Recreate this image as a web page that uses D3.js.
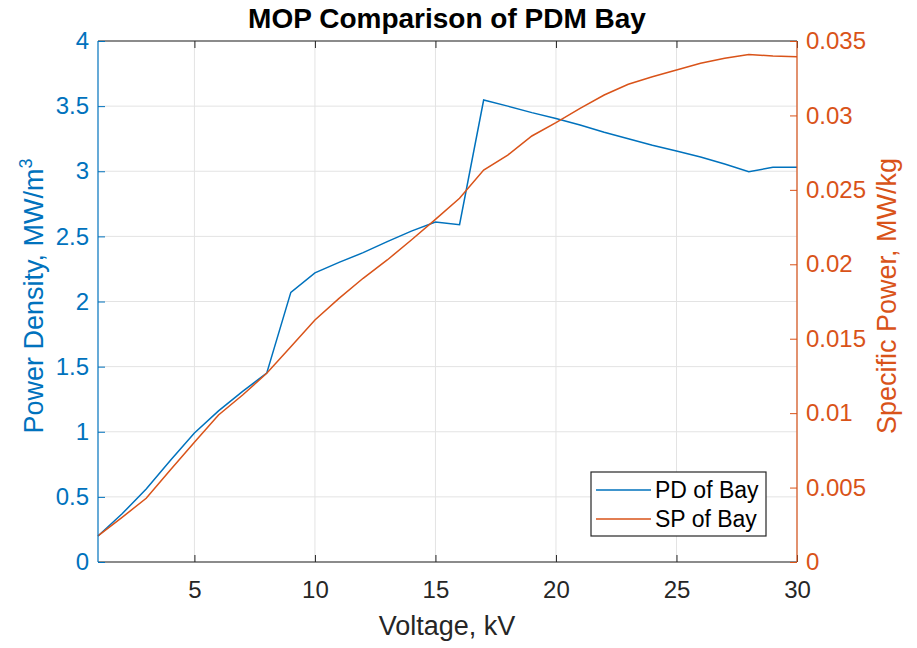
<!DOCTYPE html>
<html>
<head>
<meta charset="utf-8">
<script src="https://cdn.jsdelivr.net/npm/d3@7"></script>
<style>
  html, body { margin: 0; padding: 0; background: #fff; }
  svg { display: block; font-family: "Liberation Sans", Arial, Helvetica, sans-serif; }
</style>
</head>
<body>
<svg id="chart" width="917" height="648"></svg>
<script>
// Voltage sweep (kV)
const voltage = [1,2,3,4,5,6,7,8,9,10,11,12,13,14,15,16,17,18,19,20,21,22,23,24,25,26,27,28,29,30];
// Power density of Bay (MW/m^3)
const pdBay = [0.20,0.37,0.56,0.78,0.99,1.16,1.31,1.45,2.07,2.22,2.30,2.375,2.46,2.54,2.61,2.59,3.547,3.50,3.45,3.405,3.355,3.30,3.25,3.20,3.155,3.11,3.055,2.997,3.03,3.03];
// Specific power of Bay (MW/kg)
const spBay = [0.00175,0.0030,0.00428,0.00618,0.00805,0.00988,0.01122,0.01268,0.01446,0.01626,0.01771,0.01906,0.02029,0.02163,0.02302,0.02443,0.02633,0.02734,0.02862,0.02952,0.03048,0.03137,0.03209,0.0326,0.03305,0.0335,0.03384,0.0341,0.03399,0.03394];

const xTicks = [5,10,15,20,25,30];
const leftTicks = [0,0.5,1,1.5,2,2.5,3,3.5,4];
const rightTicks = [0,0.005,0.01,0.015,0.02,0.025,0.03,0.035];

const blue = "#0072BD", orange = "#D95319", dark = "#262626", grid = "#e3e3e3";
const m = {left: 98, right: 797, top: 41, bottom: 562};

const svg = d3.select("#chart");
const x = d3.scaleLinear().domain([1, 30]).range([m.left, m.right]);
const yL = d3.scaleLinear().domain([0, 4]).range([m.bottom, m.top]);
const yR = d3.scaleLinear().domain([0, 0.035]).range([m.bottom, m.top]);

// grid
const g = svg.append("g");
g.selectAll(".gx").data(xTicks).join("line")
  .attr("x1", d => x(d)).attr("x2", d => x(d)).attr("y1", m.top).attr("y2", m.bottom)
  .attr("stroke", grid).attr("stroke-width", 1);
g.selectAll(".gy").data(leftTicks).join("line")
  .attr("x1", m.left).attr("x2", m.right).attr("y1", d => yL(d)).attr("y2", d => yL(d))
  .attr("stroke", grid).attr("stroke-width", 1);

// lines
const lineL = d3.line().x((d, i) => x(voltage[i])).y(d => yL(d));
const lineR = d3.line().x((d, i) => x(voltage[i])).y(d => yR(d));
svg.append("path").datum(pdBay).attr("d", lineL).attr("fill", "none").attr("stroke", blue).attr("stroke-width", 1.5);
svg.append("path").datum(spBay).attr("d", lineR).attr("fill", "none").attr("stroke", orange).attr("stroke-width", 1.5);

// axes
const tickFont = "24px";
const axBottom = svg.append("g").attr("transform", `translate(0,${m.bottom})`)
  .call(d3.axisBottom(x).tickValues(xTicks).tickSize(-7).tickPadding(19).tickFormat(d3.format("d")));
axBottom.select(".domain").attr("stroke", dark).attr("stroke-width", 1.2).attr("d", `M${m.left},0H${m.right}`);
axBottom.selectAll(".tick line").attr("stroke", dark);
axBottom.selectAll("text").attr("fill", dark).style("font-size", tickFont);

const axTop = svg.append("g").attr("transform", `translate(0,${m.top})`)
  .call(d3.axisTop(x).tickValues(xTicks).tickSize(-7).tickFormat(""));
axTop.select(".domain").attr("stroke", dark).attr("stroke-width", 1.2).attr("d", `M${m.left},0H${m.right}`);
axTop.selectAll(".tick line").attr("stroke", dark);

const axLeft = svg.append("g").attr("transform", `translate(${m.left},0)`)
  .call(d3.axisLeft(yL).tickValues(leftTicks).tickSize(-7).tickPadding(9).tickFormat(d => d3.format("~g")(d)));
axLeft.select(".domain").attr("stroke", blue).attr("stroke-width", 1.2).attr("d", `M0,${m.top}V${m.bottom}`);
axLeft.selectAll(".tick line").attr("stroke", blue);
axLeft.selectAll("text").attr("fill", blue).style("font-size", tickFont);

const axRight = svg.append("g").attr("transform", `translate(${m.right},0)`)
  .call(d3.axisRight(yR).tickValues(rightTicks).tickSize(-7).tickPadding(9).tickFormat(d => d3.format("~g")(d)));
axRight.select(".domain").attr("stroke", orange).attr("stroke-width", 1.2).attr("d", `M0,${m.top}V${m.bottom}`);
axRight.selectAll(".tick line").attr("stroke", orange);
axRight.selectAll("text").attr("fill", orange).style("font-size", tickFont);

// title and labels
svg.append("text").attr("x", 447).attr("y", 28).attr("text-anchor", "middle")
  .attr("font-weight", "bold").attr("font-size", 28).attr("fill", "#000")
  .text("MOP Comparison of PDM Bay");
svg.append("text").attr("x", 447).attr("y", 635).attr("text-anchor", "middle")
  .attr("font-size", 27).attr("fill", dark).text("Voltage, kV");
const yl = svg.append("text").attr("transform", "translate(43,296) rotate(-90)")
  .attr("text-anchor", "middle").attr("font-size", 27).attr("fill", blue);
yl.append("tspan").text("Power Density, MW/m");
yl.append("tspan").attr("dy", -11).attr("font-size", 18).text("3");
svg.append("text").attr("transform", "translate(896,296) rotate(-90)")
  .attr("text-anchor", "middle").attr("font-size", 27).attr("fill", orange)
  .text("Specific Power, MW/kg");

// legend
const lg = svg.append("g").attr("transform", "translate(591,472)");
lg.append("rect").attr("width", 175).attr("height", 64).attr("fill", "#fff").attr("stroke", dark).attr("stroke-width", 1.2);
const items = [{name: "PD of Bay", color: blue}, {name: "SP of Bay", color: orange}];
items.forEach((it, i) => {
  const cy = 18 + i * 29;
  lg.append("line").attr("x1", 5).attr("x2", 60).attr("y1", cy).attr("y2", cy).attr("stroke", it.color).attr("stroke-width", 1.5);
  lg.append("text").attr("x", 64).attr("y", cy + 8).attr("font-size", 23).attr("fill", "#000").text(it.name);
});
</script>
</body>
</html>
